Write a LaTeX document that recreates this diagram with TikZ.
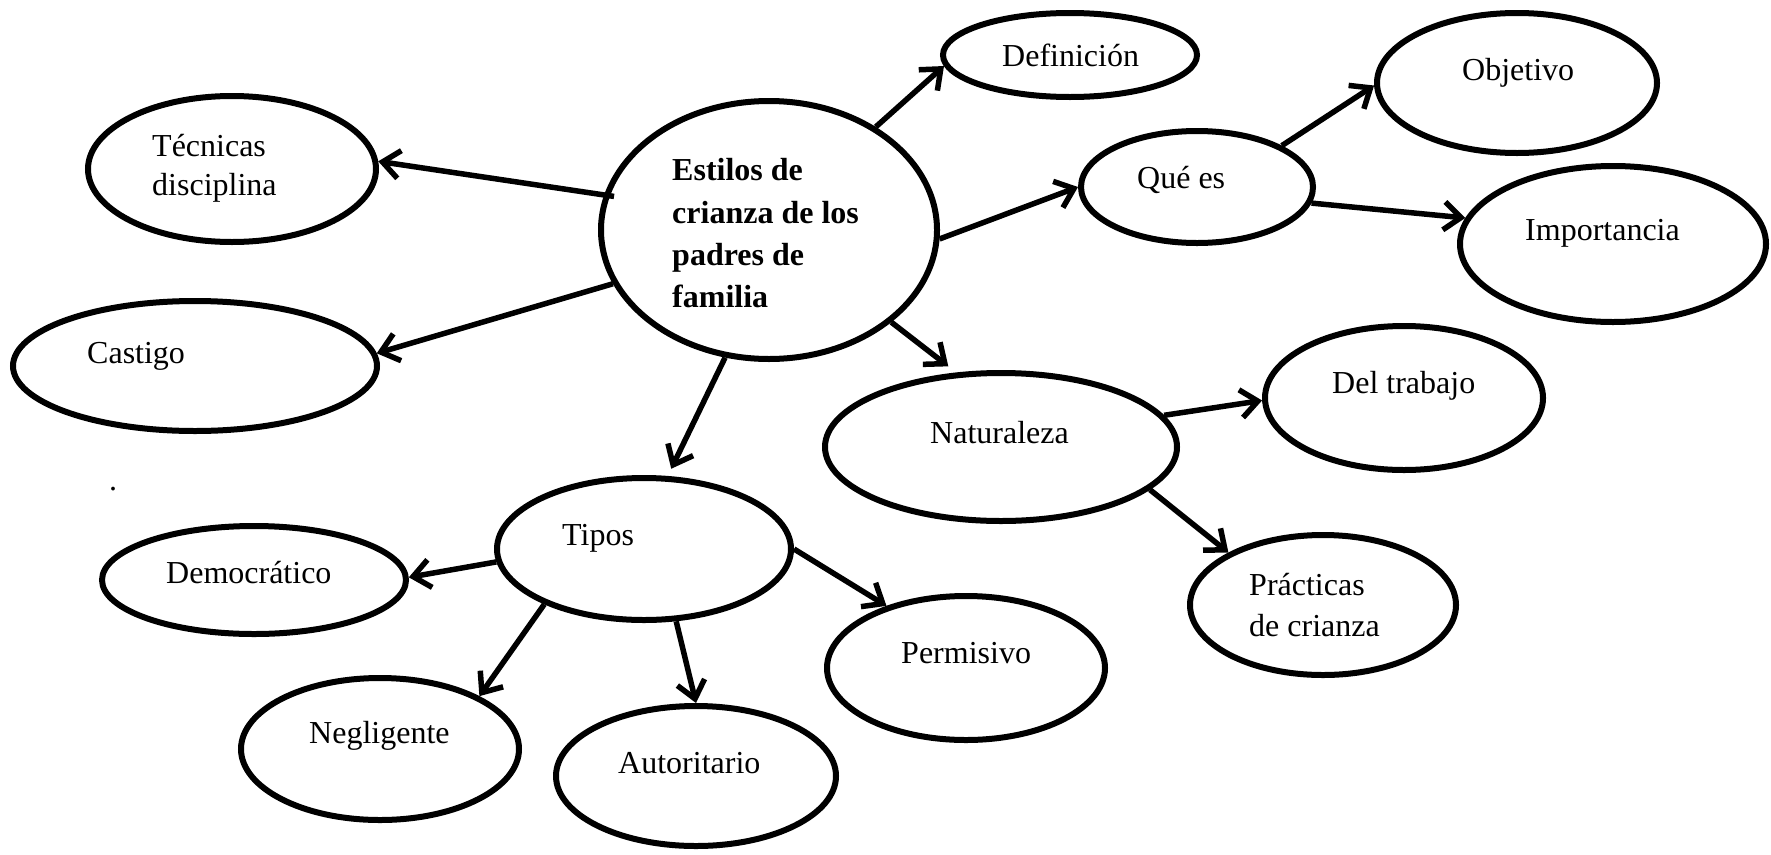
\documentclass[tikz,border=0pt]{standalone}
\usepackage{fontspec}
\setmainfont{Liberation Serif}
\usetikzlibrary{arrows.meta,shapes.geometric}
\begin{document}
\begin{tikzpicture}[x=1pt,y=-1pt,
  oval/.style={ellipse, draw, line width=6pt, inner sep=0pt},
  lbl/.style={anchor=base west, inner sep=0pt, font=\fontsize{32}{38}\selectfont},
  blbl/.style={anchor=base west, inner sep=0pt, font=\fontsize{32}{38}\selectfont\bfseries},
  conn/.style={line width=5.5pt, -{Straight Barb[length=17pt,width=28pt]}}]
\useasboundingbox (0,0) rectangle (1771,854);
% ellipses
\node[oval, minimum width=336pt, minimum height=258pt] (c) at (769,230) {};
\node[oval, minimum width=254pt, minimum height=84pt] (def) at (1070,55) {};
\node[oval, minimum width=288pt, minimum height=146pt] (tec) at (232,169) {};
\node[oval, minimum width=364pt, minimum height=130pt] (cas) at (195,366) {};
\node[oval, minimum width=232pt, minimum height=112pt] (que) at (1197,187) {};
\node[oval, minimum width=280pt, minimum height=140pt] (obj) at (1517,83) {};
\node[oval, minimum width=306pt, minimum height=156pt] (imp) at (1613,244) {};
\node[oval, minimum width=352pt, minimum height=148pt] (nat) at (1001,447) {};
\node[oval, minimum width=278pt, minimum height=144pt] (dt) at (1404,398) {};
\node[oval, minimum width=266pt, minimum height=140pt] (prac) at (1323,605) {};
\node[oval, minimum width=278pt, minimum height=144pt] (perm) at (966,668) {};
\node[oval, minimum width=294pt, minimum height=142pt] (tip) at (644,549) {};
\node[oval, minimum width=304pt, minimum height=108pt] (dem) at (254,580) {};
\node[oval, minimum width=278pt, minimum height=142pt] (neg) at (380,749) {};
\node[oval, minimum width=280pt, minimum height=140pt] (aut) at (696,776) {};
% texts
\node[blbl] (c1) at (672,180) {Estilos de};
\node[blbl] (c2) at (672,223) {crianza de los};
\node[blbl] (c3) at (672,265) {padres de};
\node[blbl] (c4) at (672,307) {familia};
\node[lbl] (tdef) at (1002,66) {Definición};
\node[lbl] (ttec1) at (152,156) {Técnicas};
\node[lbl] (ttec2) at (152,195) {disciplina};
\node[lbl] (tcas) at (87,363) {Castigo};
\node[lbl] (tque) at (1137,188) {Qué es};
\node[lbl] (tobj) at (1462,80) {Objetivo};
\node[lbl] (timp) at (1525,240) {Importancia};
\node[lbl] (tnat) at (930,443) {Naturaleza};
\node[lbl] (tdt) at (1332,393) {Del trabajo};
\node[lbl] (tprac1) at (1249,595) {Prácticas};
\node[lbl] (tprac2) at (1249,636) {de crianza};
\node[lbl] (tperm) at (901,663) {Permisivo};
\node[lbl] (ttip) at (562,545) {Tipos};
\node[lbl] (tdem) at (166,583) {Democrático};
\node[lbl] (tneg) at (309,743) {Negligente};
\node[lbl] (taut) at (618,773) {Autoritario};
\node[lbl] (dot) at (109,490) {.};
% connectors
\draw[conn] (c.44) -- (def.185);
\draw[conn] (c.357) -- (que.180);
\draw[conn, shorten >=10pt] (c.323) -- (nat.121);
\draw[conn, shorten >=8pt] (c.251) -- (tip.72);
\draw[conn, shorten <=-10pt] (c.168) -- (tec.3);
\draw[conn] (c.199) -- (cas.4);
\draw[conn] (que.26) -- (obj.181);
\draw[conn] (que.352) -- (imp.170);
\draw[conn] (nat.11) -- (dt.181);
\draw[conn] (nat.344) -- (prac.151);
\draw[conn] (tip.185) -- (dem.1);
\draw[conn] (tip.209) -- (neg.28);
\draw[conn] (tip.294) -- (aut.90);
\draw[conn] (tip.0) -- (perm.142);
\end{tikzpicture}
\end{document}
